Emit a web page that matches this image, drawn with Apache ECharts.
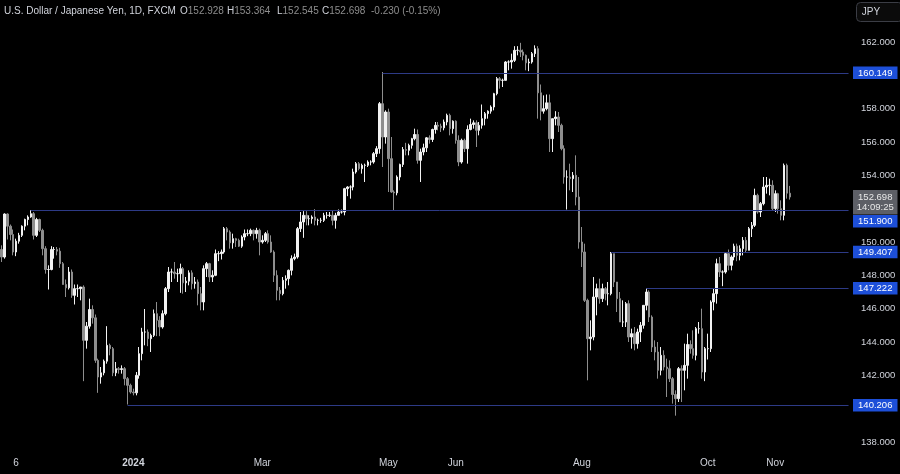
<!DOCTYPE html>
<html><head><meta charset="utf-8">
<script src="https://cdn.jsdelivr.net/npm/echarts@6/dist/echarts.min.js"></script>
<style>html,body{margin:0;padding:0;background:#000;}#c{width:900px;height:474px;}</style>
</head><body><div id="c"></div>
<script>
// ---- data: daily bars [open, high, low, close], one array per month (weekdays) ----
const firstDate = '2023-10-30';
const futureSlots = 20;
const oct23 = [[149.55,149.80,148.80,149.10],[149.10,151.72,149.00,151.68]];
const nov23 = [
[151.68,151.72,150.15,150.95],[150.95,151.05,150.10,150.45],[150.45,150.75,149.20,149.40],
[149.40,150.20,149.15,150.05],[150.05,150.55,149.90,150.40],[150.40,151.00,150.30,150.95],[150.95,151.40,150.70,151.35],[151.35,151.60,151.00,151.50],
[151.50,151.91,151.45,151.70],[151.70,151.80,150.15,150.40],[150.40,151.45,150.30,151.35],[151.35,151.40,150.60,150.70],[150.70,150.80,149.20,149.60],
[149.60,149.75,148.10,148.35],[148.35,148.60,147.15,148.35],[148.35,149.75,148.30,149.55],[149.55,149.70,149.00,149.55],[149.55,149.70,149.20,149.45],
[149.45,149.65,148.45,148.70],[148.70,148.80,147.45,147.45],[147.45,147.75,146.70,147.25],[147.25,148.50,147.15,148.20]];
const dec23 = [
[148.20,148.35,146.65,146.80],
[146.80,147.45,146.25,147.20],[147.20,147.45,146.70,147.20],[147.20,147.30,146.50,147.30],[147.30,147.40,141.65,144.10],[144.10,145.20,143.60,144.95],
[144.95,146.60,144.80,145.95],[145.95,146.20,145.10,145.45],[145.45,145.65,142.75,142.90],[142.90,143.00,140.95,141.90],[141.90,142.50,141.50,142.15],
[142.15,142.95,142.00,142.85],[142.85,144.95,142.70,143.80],[143.80,143.90,143.20,143.60],[143.60,143.70,141.95,142.15],[142.15,142.80,141.95,142.40],
[142.40,142.50,142.10,142.35],[142.35,142.60,142.10,142.40],[142.40,142.50,141.40,141.80],[141.80,141.90,140.25,141.40],[141.40,141.50,140.90,141.00]];
const jan24 = [
[141.00,141.20,140.80,140.95],[140.95,142.20,140.80,142.00],[142.00,143.70,141.80,143.30],[143.30,144.85,142.90,144.60],[144.60,145.98,143.80,144.60],
[144.60,144.75,143.75,144.20],[144.20,144.50,143.40,144.40],[144.40,145.95,144.30,145.70],[145.70,146.40,144.35,145.30],[145.30,145.55,144.35,144.90],
[144.90,145.90,144.80,145.70],[145.70,147.30,145.60,147.20],[147.20,148.50,147.00,148.20],[148.20,148.40,147.60,148.20],[148.20,148.80,147.80,148.10],
[148.10,148.40,147.60,148.10],[148.10,148.70,146.95,148.40],[148.40,148.50,146.90,147.55],[147.55,147.90,147.00,147.65],[147.65,148.30,147.40,148.15],
[148.15,148.30,147.15,147.50],[147.50,147.90,147.20,147.60],[147.60,147.75,146.20,146.90]];
const feb24 = [
[146.90,147.30,145.90,146.40],[146.40,148.60,145.90,148.40],
[148.40,148.80,147.90,148.70],[148.70,148.75,147.60,147.90],[147.90,148.30,147.60,148.00],[148.00,149.55,147.95,149.30],[149.30,149.45,148.85,149.30],
[149.30,149.55,148.95,149.40],[149.40,150.90,149.30,150.80],[150.80,150.90,150.10,150.60],[150.60,150.70,149.60,149.95],[149.95,150.50,149.60,150.20],
[150.20,150.25,149.70,150.10],[150.10,150.20,149.70,149.75],[149.75,150.40,149.65,150.30],[150.30,150.75,150.10,150.50],[150.50,150.75,150.35,150.50],
[150.50,150.80,150.35,150.70],[150.70,150.75,150.10,150.50],[150.50,150.85,150.20,150.70],[150.70,150.80,149.20,150.00]];
const mar24 = [
[150.00,150.40,149.90,150.10],
[150.10,150.60,150.00,150.50],[150.50,150.70,149.90,150.00],[150.00,150.40,149.35,149.40],[149.40,149.50,147.60,148.00],[148.00,148.30,146.50,147.10],
[147.10,147.30,146.50,146.90],[146.90,147.90,146.80,147.70],[147.70,148.00,147.20,147.80],[147.80,148.35,147.40,148.30],[148.30,149.20,148.00,149.00],
[149.00,149.30,148.90,149.10],[149.10,150.90,149.00,150.80],[150.80,151.80,150.60,151.20],[151.20,151.85,150.25,151.60],[151.60,151.85,151.00,151.40],
[151.40,151.60,151.00,151.40],[151.40,151.60,151.10,151.50],[151.50,151.97,151.00,151.30],[151.30,151.40,151.00,151.30],[151.30,151.45,151.15,151.30]];
const apr24 = [
[151.30,151.75,151.20,151.60],[151.60,151.80,151.40,151.60],[151.60,151.80,151.50,151.60],[151.60,151.90,151.00,151.30],[151.30,151.75,150.80,151.60],
[151.60,151.95,151.60,151.80],[151.80,151.95,151.70,151.80],[151.80,153.25,151.60,153.20],[153.20,153.35,152.75,153.30],[153.30,153.40,152.60,153.30],
[153.30,154.40,153.10,154.20],[154.20,154.80,154.10,154.70],[154.70,154.80,154.30,154.40],[154.40,154.70,154.10,154.60],[154.60,154.70,153.60,154.60],
[154.60,154.90,154.50,154.80],[154.80,154.90,154.60,154.80],[154.80,155.40,154.70,155.30],[155.30,155.75,155.10,155.60],[155.60,158.40,155.30,158.30],
[158.30,160.20,154.50,156.30],[156.30,157.90,155.90,157.80]];
const may24 = [
[157.80,158.00,153.00,155.00],[155.00,156.30,152.95,153.00],[153.00,153.10,151.86,152.95],
[152.95,154.00,152.80,153.90],[153.90,154.70,153.70,154.65],[154.65,155.70,154.50,155.55],[155.55,155.95,155.20,155.50],[155.50,155.90,155.20,155.80],
[155.80,156.25,155.60,156.20],[156.20,156.80,156.10,156.45],[156.45,156.75,154.70,154.90],[154.90,155.60,153.60,155.40],[155.40,155.90,155.20,155.65],
[155.65,156.30,155.40,156.25],[156.25,156.40,155.90,156.15],[156.15,156.80,156.00,156.75],[156.75,157.20,156.50,157.00],[157.00,157.20,156.70,156.95],
[156.95,157.10,156.60,156.85],[156.85,157.35,156.70,157.20],[157.20,157.70,157.00,157.60],[157.60,157.70,156.40,156.80],[156.80,157.30,156.50,157.25]];
const jun24 = [
[157.25,157.30,155.90,156.10],[156.10,156.40,154.55,154.80],[154.80,156.20,154.70,156.10],[156.10,156.20,155.40,155.60],[155.60,157.00,154.70,156.75],
[156.75,157.40,156.70,157.05],[157.05,157.30,156.80,157.15],[157.15,157.30,155.70,156.70],[156.70,157.20,156.40,157.00],[157.00,158.25,156.80,157.40],
[157.40,157.80,157.00,157.70],[157.70,157.90,157.40,157.85],[157.85,158.20,157.70,158.10],[158.10,158.95,157.90,158.90],[158.90,159.90,158.80,159.80],
[159.80,159.90,159.20,159.70],[159.70,159.80,159.30,159.70],[159.70,160.85,159.70,160.80],[160.80,160.90,160.30,160.80],[160.80,161.30,160.40,160.90]];
const jul24 = [
[160.90,161.75,160.80,161.50],[161.50,161.75,161.20,161.50],[161.50,161.95,161.10,161.40],[161.40,161.55,160.90,161.20],[161.20,161.25,160.30,160.75],
[160.75,161.00,160.25,160.80],[160.80,161.40,160.70,161.30],[161.30,161.80,161.10,161.60],[161.60,161.75,157.40,158.95],[158.95,159.45,157.30,157.85],
[157.85,158.80,157.70,158.00],[158.00,158.85,157.90,158.35],[158.35,158.85,155.40,156.20],[156.20,157.40,155.40,157.40],[157.40,157.85,157.00,157.50],
[157.50,157.80,156.60,157.00],[157.00,157.10,155.50,155.60],[155.60,155.80,153.50,153.90],[153.90,154.30,151.95,153.90],[153.90,154.70,153.10,153.80],
[153.80,154.20,153.00,154.00],[154.00,155.20,152.20,152.70],[152.70,153.90,149.60,150.00]];
const aug24 = [
[150.00,150.90,148.50,149.40],[149.40,149.90,146.40,146.50],
[146.50,146.60,141.70,144.20],[144.20,145.30,143.50,144.30],[144.30,147.90,144.10,146.70],[146.70,147.50,145.60,147.20],[147.20,147.80,146.30,146.60],
[146.60,147.50,146.40,147.20],[147.20,147.30,146.50,146.90],[146.90,147.60,146.20,146.90],[146.90,149.40,146.80,149.30],[149.30,149.30,147.30,147.60],
[147.60,147.60,145.80,146.60],[146.60,147.00,145.20,145.20],[145.20,146.50,144.90,145.20],[145.20,146.40,144.90,146.30],[146.30,146.50,144.00,144.30],
[144.30,144.80,143.60,144.50],[144.50,144.90,143.50,143.90],[143.90,144.80,143.60,144.60],[144.60,145.20,144.00,145.00],[145.00,146.20,144.80,146.20]];
const sep24 = [
[146.20,147.22,145.90,147.00],[147.00,147.10,145.20,145.50],[145.50,145.60,143.40,143.70],[143.70,144.10,142.90,143.40],[143.40,144.00,141.80,142.30],
[142.30,143.70,142.00,143.20],[143.20,143.50,142.30,142.50],[142.50,143.00,140.70,142.40],[142.40,142.90,141.60,141.80],[141.80,141.90,140.30,140.85],
[140.85,141.10,139.58,140.60],[140.60,142.50,140.40,142.40],[142.40,142.60,140.40,142.30],[142.30,143.90,141.10,142.60],[142.60,144.50,141.80,143.85],
[143.85,144.10,143.30,143.60],[143.60,144.70,143.00,143.20],[143.20,144.90,142.90,144.80],[144.80,145.20,144.50,144.80],[144.80,146.00,141.80,142.20],
[142.20,143.70,141.65,143.60]];
const oct24 = [
[143.60,144.50,142.95,143.60],[143.60,146.50,143.40,146.40],[146.40,147.20,145.90,146.90],[146.90,149.00,146.30,148.70],
[148.70,149.10,147.90,148.20],[148.20,148.30,147.35,148.20],[148.20,149.40,148.10,149.30],[149.30,149.55,148.30,148.60],[148.60,149.20,148.30,149.10],
[149.10,149.90,148.90,149.75],[149.75,149.90,148.85,149.20],[149.20,149.80,148.90,149.60],[149.60,150.30,149.20,150.10],[150.10,150.30,149.40,149.50],
[149.50,150.90,149.50,150.80],[150.80,151.20,150.30,151.00],[151.00,153.20,150.90,152.80],[152.80,152.90,151.70,151.80],[151.80,152.40,151.50,152.30],
[152.30,153.90,152.20,153.30],[153.30,153.90,152.90,153.40],[153.40,153.80,152.80,153.40],[153.40,153.70,151.90,152.00]];
const nov24 = [
[152.00,153.10,151.80,152.90],
[152.90,152.95,151.70,152.00],[152.00,152.50,151.30,151.60],[151.60,154.71,151.30,154.60],[154.60,154.70,152.60,152.928],[152.928,153.364,152.545,152.698]];
const monthBlocks = [oct23, nov23, dec23, jan24, feb24, mar24, apr24, may24, jun24, jul24, aug24, sep24, oct24, nov24];

// axis ticks
const yMin = 138, yMax = 162, yStep = 2;
const xTickDates = ['2023-11-06','2024-01-01','2024-03-01','2024-05-01','2024-06-03','2024-08-01','2024-10-01','2024-11-01'];
const xTickTexts = ['6','2024','Mar','May','Jun','Aug','Oct','Nov'];
// horizontal levels
const levelValues = [160.149, 151.900, 149.407, 147.222, 140.206];
const levelStarts = ['2024-04-29','2023-11-13','2024-08-15','2024-09-02','2023-12-28'];
const countdown = '14:09:25';
const symbolTitle = 'U.S. Dollar / Japanese Yen, 1D, FXCM';

// ---- build ----
const UP = '#f2f2f2', DOWN = '#8e8e8e', TXT = '#d1d4dc', LINE = '#2d3a86', BLUE = '#1d4fd8';
const FONT = '"Liberation Sans", Arial, sans-serif';
const bars = monthBlocks.flat();
function weekdays(start, n) {
  const out = []; const d = new Date(start + 'T00:00:00Z');
  while (out.length < n) { const w = d.getUTCDay(); if (w !== 0 && w !== 6) out.push(d.toISOString().slice(0, 10)); d.setUTCDate(d.getUTCDate() + 1); }
  return out;
}
const dates = weekdays(firstDate, bars.length + futureSlots);
const lastDate = dates[dates.length - 1];
const labelMap = {}; xTickDates.forEach((d, i) => labelMap[d] = xTickTexts[i]);
const candleData = bars.map(b => [b[0], b[3], b[2], b[1]]);

const chart = echarts.init(document.getElementById('c'), null, {renderer: 'canvas'});
chart.setOption({
  backgroundColor: '#000000',
  animation: false,
  textStyle: {fontFamily: FONT},
  grid: {left: 0, right: 50, top: 42, bottom: 32},
  xAxis: {
    type: 'category', data: dates, boundaryGap: true,
    axisLine: {show: false}, axisTick: {show: false}, splitLine: {show: false},
    axisLabel: {
      interval: (i, v) => labelMap[v] !== undefined,
      formatter: v => v === '2024-01-01' ? '{b|' + labelMap[v] + '}' : labelMap[v],
      color: TXT, fontSize: 10, margin: 16,
      rich: {b: {fontWeight: 'bold', color: TXT, fontSize: 10}}
    }
  },
  yAxis: {
    type: 'value', position: 'right', min: yMin, max: yMax, interval: yStep,
    axisLine: {show: false}, axisTick: {show: false}, splitLine: {show: false},
    axisLabel: {formatter: v => v.toFixed(3), color: TXT, fontSize: 9.5, margin: 11}
  },
  series: [{
    type: 'candlestick', data: candleData, barWidth: 2,
    itemStyle: {color: UP, color0: DOWN, borderColor: UP, borderColor0: DOWN, borderWidth: 1},
    markLine: {
      silent: true, symbol: ['none', 'none'], label: {show: false},
      lineStyle: {color: LINE, width: 1, type: 'solid', opacity: 1},
      data: levelValues.map((v, i) => [{coord: [levelStarts[i], v]}, {coord: [lastDate, v]}])
    }
  }]
});

// ---- overlay: header, price labels ----
const yOf = v => chart.convertToPixel({yAxisIndex: 0}, v);
const last = bars[bars.length - 1];
const chg = last[3] - bars[bars.length - 2][3];
const pct = chg / bars[bars.length - 2][3] * 100;
const g = [];
g.push({type: 'text', x: 4, y: 11, style: {text: symbolTitle, fill: TXT, font: '10px ' + FONT, verticalAlign: 'middle'}});
const hdr = [['O', last[0].toFixed(3), 180], ['H', last[1].toFixed(3), 227], ['L', last[2].toFixed(3), 277], ['C', last[3].toFixed(3), 322]];
hdr.forEach(h => g.push({type: 'text', x: h[2], y: 11, style: {text: '{k|' + h[0] + '}{v|' + h[1] + '}', font: '10px ' + FONT, verticalAlign: 'middle',
  rich: {k: {fill: TXT, font: '10px ' + FONT}, v: {fill: DOWN, font: '10px ' + FONT}}}}));
g.push({type: 'text', x: 371, y: 11, style: {text: chg.toFixed(3) + ' (' + pct.toFixed(2) + '%)', fill: DOWN, font: '10px ' + FONT, verticalAlign: 'middle'}});
// JPY button
g.push({type: 'rect', shape: {x: 856.5, y: 2.5, width: 46, height: 19, r: 4}, style: {fill: '#0b0b0b', stroke: '#3b3d45', lineWidth: 1}});
g.push({type: 'text', x: 871, y: 12, style: {text: 'JPY', fill: TXT, font: '10px ' + FONT, align: 'center', verticalAlign: 'middle'}});
// current price box
const BX = 853, BW = 44.5, BH = 12.5;
const cy = yOf(last[3]);
const greyTop = cy - 7, greyH = 24.5;
g.push({type: 'rect', z: 10, shape: {x: BX, y: greyTop, width: BW, height: greyH}, style: {fill: '#5d5f66'}});
g.push({type: 'text', z: 11, x: BX + BW / 2, y: cy + 0.5, style: {text: last[3].toFixed(3), fill: '#e8e8e8', font: '9.5px ' + FONT, align: 'center', verticalAlign: 'middle'}});
g.push({type: 'text', z: 11, x: BX + BW / 2, y: cy + 10.5, style: {text: countdown, fill: '#e8e8e8', font: '9.5px ' + FONT, align: 'center', verticalAlign: 'middle'}});
levelValues.forEach(v => {
  let top = yOf(v) - BH / 2;
  if (top < greyTop + greyH && top + BH > greyTop) top = greyTop + greyH + 0.5;
  g.push({type: 'rect', z: 10, shape: {x: BX, y: top, width: BW, height: BH}, style: {fill: BLUE}});
  g.push({type: 'text', z: 11, x: BX + BW / 2, y: top + BH / 2 + 0.5, style: {text: v.toFixed(3), fill: '#ffffff', font: '9.5px ' + FONT, align: 'center', verticalAlign: 'middle'}});
});
chart.setOption({graphic: g});
</script></body></html>
